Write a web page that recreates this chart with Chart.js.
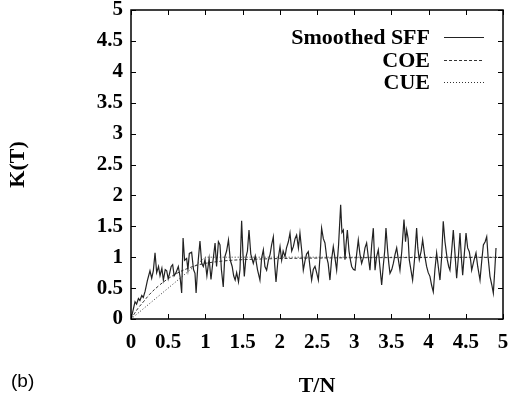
<!DOCTYPE html>
<html>
<head>
<meta charset="utf-8">
<script src="https://cdn.jsdelivr.net/npm/chart.js@4/dist/chart.umd.min.js"></script>
<style>
  html, body { margin: 0; padding: 0; background: #fff; }
  #wrap { position: relative; width: 510px; height: 398px; }
</style>
</head>
<body>
<div id="wrap"><canvas id="c" width="510" height="398"></canvas></div>
<script>
// ---- data ----
const sffT = [0, 0.03, 0.054, 0.075, 0.1, 0.12, 0.145, 0.165, 0.19, 0.22, 0.255, 0.278, 0.3, 0.323, 0.345, 0.37, 0.39, 0.415, 0.435, 0.46, 0.48, 0.5, 0.515, 0.54, 0.56, 0.58, 0.605, 0.636, 0.66, 0.681, 0.7, 0.72, 0.748, 0.765, 0.784, 0.815, 0.84, 0.86, 0.875, 0.9, 0.927, 0.95, 0.972, 0.995, 1.02, 1.05, 1.075, 1.1, 1.13, 1.15, 1.175, 1.196, 1.215, 1.24, 1.26, 1.285, 1.31, 1.335, 1.36, 1.38, 1.4, 1.42, 1.445, 1.465, 1.487, 1.505, 1.523, 1.545, 1.565, 1.586, 1.61, 1.644, 1.67, 1.7, 1.733, 1.755, 1.779, 1.8, 1.823, 1.846, 1.87, 1.89, 1.913, 1.93, 1.949, 1.975, 2.003, 2.025, 2.045, 2.07, 2.09, 2.115, 2.137, 2.16, 2.182, 2.205, 2.226, 2.25, 2.271, 2.295, 2.316, 2.34, 2.36, 2.383, 2.405, 2.428, 2.45, 2.473, 2.495, 2.518, 2.54, 2.562, 2.585, 2.607, 2.63, 2.65, 2.674, 2.695, 2.719, 2.74, 2.764, 2.79, 2.818, 2.835, 2.854, 2.876, 2.89, 2.908, 2.93, 2.95, 2.966, 2.99, 3.011, 3.033, 3.055, 3.077, 3.1, 3.125, 3.145, 3.167, 3.19, 3.212, 3.235, 3.257, 3.28, 3.3, 3.324, 3.345, 3.369, 3.39, 3.41, 3.427, 3.45, 3.465, 3.481, 3.505, 3.526, 3.55, 3.571, 3.595, 3.615, 3.64, 3.669, 3.69, 3.705, 3.725, 3.74, 3.762, 3.785, 3.81, 3.839, 3.855, 3.875, 3.9, 3.92, 3.945, 3.973, 3.995, 4.018, 4.04, 4.063, 4.085, 4.108, 4.13, 4.153, 4.175, 4.197, 4.22, 4.251, 4.27, 4.287, 4.31, 4.332, 4.355, 4.377, 4.4, 4.422, 4.44, 4.458, 4.48, 4.503, 4.525, 4.547, 4.565, 4.579, 4.61, 4.637, 4.66, 4.691, 4.715, 4.736, 4.76, 4.781, 4.8, 4.825, 4.85, 4.87, 4.89, 4.906];
const sffK = [0, 0.15, 0.28, 0.24, 0.33, 0.30, 0.38, 0.35, 0.45, 0.62, 0.78, 0.66, 0.78, 1.07, 0.75, 0.85, 0.70, 0.82, 0.63, 0.80, 0.78, 0.65, 0.72, 0.85, 0.88, 0.70, 0.75, 0.85, 0.68, 0.42, 1.31, 0.95, 0.98, 0.80, 1.06, 1.08, 0.80, 0.74, 0.42, 0.90, 1.26, 0.90, 0.85, 0.96, 0.70, 0.98, 0.64, 0.92, 1.23, 0.85, 1.25, 1.20, 0.80, 0.52, 1.00, 1.10, 1.28, 0.95, 0.85, 0.70, 0.63, 0.75, 0.60, 0.80, 1.59, 1.05, 0.69, 1.00, 1.10, 1.44, 1.05, 0.90, 1.02, 0.80, 0.63, 0.98, 1.12, 0.85, 0.79, 0.95, 1.05, 1.20, 1.33, 0.90, 0.60, 0.95, 1.17, 0.95, 1.10, 1.01, 1.15, 1.25, 1.39, 1.10, 1.17, 1.30, 1.36, 1.15, 1.39, 1.10, 0.79, 0.95, 1.05, 1.09, 0.85, 0.63, 0.80, 0.85, 0.75, 0.63, 1.00, 1.47, 1.30, 1.23, 1.00, 0.90, 0.63, 0.95, 1.17, 1.00, 0.79, 1.20, 1.85, 1.40, 1.44, 0.96, 1.20, 1.44, 1.10, 0.95, 0.85, 0.80, 0.79, 1.05, 1.28, 1.05, 0.90, 1.00, 1.15, 1.23, 1.00, 0.79, 1.20, 1.47, 0.79, 1.00, 1.12, 0.85, 0.55, 0.85, 1.10, 1.47, 1.10, 0.90, 0.74, 0.80, 0.90, 1.05, 1.15, 0.95, 0.79, 1.10, 1.61, 1.25, 1.44, 1.30, 0.96, 0.80, 0.63, 0.95, 1.47, 1.15, 0.96, 1.10, 1.28, 1.05, 0.85, 0.75, 0.69, 0.55, 0.44, 0.80, 1.07, 0.85, 0.63, 1.00, 1.58, 1.25, 0.96, 0.85, 0.79, 1.10, 1.44, 1.05, 0.66, 1.00, 1.39, 1.00, 0.71, 1.05, 1.39, 1.15, 1.09, 0.95, 0.79, 0.95, 1.07, 0.85, 0.63, 0.95, 1.20, 1.25, 1.33, 1.00, 0.69, 0.55, 0.42, 0.80, 1.15];
const coeT = [0, 0.05, 0.1, 0.175, 0.25, 0.375, 0.5, 0.625, 0.75, 0.875, 1, 1.25, 1.5, 2, 2.5, 3, 4, 5];
const coeK = [0, 0.095, 0.182, 0.29, 0.399, 0.54, 0.653, 0.744, 0.813, 0.865, 0.901, 0.94, 0.96, 0.978, 0.986, 0.991, 0.995, 0.997];
const cueT = [0, 1, 5];
const cueK = [0, 1, 1];
const xTickLabels = ['0', '0.5', '1', '1.5', '2', '2.5', '3', '3.5', '4', '4.5', '5'];
const yTickLabels = ['0', '0.5', '1', '1.5', '2', '2.5', '3', '3.5', '4', '4.5', '5'];
const seriesNames = ['Smoothed SFF', 'COE', 'CUE'];
const panelLabel = '(b)';
const xTitle = 'T/N';
const yTitle = 'K(T)';

const toPts = (xs, ys) => xs.map((v, i) => ({ x: v, y: ys[i] }));
const SERIF = '"Liberation Serif", "Times New Roman", serif';

const framePlugin = {
  id: 'frame',
  afterDatasetsDraw(chart) {
    const { ctx, chartArea: a, scales: { x, y } } = chart;
    ctx.save();
    ctx.strokeStyle = '#000';
    ctx.lineWidth = 1;
    ctx.beginPath();
    x.ticks.forEach(t => {
      const px = Math.round(x.getPixelForValue(t.value)) + 0.5;
      ctx.moveTo(px, a.bottom); ctx.lineTo(px, a.bottom - 5);
      ctx.moveTo(px, a.top); ctx.lineTo(px, a.top + 5);
    });
    y.ticks.forEach(t => {
      const py = Math.round(y.getPixelForValue(t.value)) + 0.5;
      ctx.moveTo(a.left, py); ctx.lineTo(a.left + 5, py);
      ctx.moveTo(a.right, py); ctx.lineTo(a.right - 5, py);
    });
    ctx.stroke();
    ctx.lineWidth = 1.5;
    ctx.strokeRect(a.left, a.top, a.right - a.left, a.bottom - a.top);

    // legend: text right-aligned, line sample on the right
    const rows = [37, 60, 82];
    ctx.font = 'bold 22px ' + SERIF;
    ctx.fillStyle = '#000';
    ctx.textAlign = 'right';
    ctx.textBaseline = 'middle';
    chart.data.datasets.forEach((ds, i) => {
      ctx.fillText(ds.label, 430, rows[i] + 1);
      ctx.beginPath();
      ctx.setLineDash(ds.borderDash || []);
      ctx.lineWidth = 1;
      ctx.strokeStyle = ds.borderColor;
      ctx.moveTo(444, rows[i] + 0.5);
      ctx.lineTo(484, rows[i] + 0.5);
      ctx.stroke();
    });
    ctx.setLineDash([]);

    // panel label
    ctx.font = '19px "Liberation Sans", Arial, sans-serif';
    ctx.textAlign = 'left';
    ctx.fillStyle = '#000';
    ctx.fillText(panelLabel, 11, 382);
    ctx.restore();
  }
};

new Chart(document.getElementById('c'), {
  type: 'line',
  data: {
    datasets: [
      { label: seriesNames[0], data: toPts(sffT, sffK), borderColor: '#222', borderWidth: 1.2, pointRadius: 0, tension: 0, fill: false },
      { label: seriesNames[1], data: toPts(coeT, coeK), borderColor: '#333', borderWidth: 1, borderDash: [3, 2], pointRadius: 0, tension: 0.4, fill: false },
      { label: seriesNames[2], data: toPts(cueT, cueK), borderColor: '#333', borderWidth: 1, borderDash: [1, 2], pointRadius: 0, tension: 0, fill: false }
    ]
  },
  options: {
    responsive: false,
    animation: false,
    layout: { padding: { left: 0, right: 7, top: 10, bottom: 0 } },
    plugins: { legend: { display: false }, tooltip: { enabled: false } },
    scales: {
      x: {
        type: 'linear', min: 0, max: 5,
        grid: { display: false, drawTicks: false },
        border: { display: false },
        ticks: {
          stepSize: 0.5, padding: 11, color: '#000', maxRotation: 0, autoSkip: false,
          font: { family: SERIF, size: 21, weight: 'bold' },
          callback: v => xTickLabels[Math.round(v / 0.5)]
        },
        title: { display: true, text: xTitle, color: '#000', font: { family: SERIF, size: 22, weight: 'bold', lineHeight: 1 }, padding: { top: 0, bottom: 1 } },
        afterFit: s => { s.height = 79; s.paddingLeft = 0; s.paddingRight = 0; }
      },
      y: {
        type: 'linear', min: 0, max: 5,
        grid: { display: false, drawTicks: false },
        border: { display: false },
        ticks: {
          stepSize: 0.5, padding: 8, color: '#000', autoSkip: false,
          font: { family: SERIF, size: 21, weight: 'bold' },
          callback: v => yTickLabels[Math.round(v / 0.5)]
        },
        title: { display: true, text: yTitle, color: '#000', font: { family: SERIF, size: 22, weight: 'bold', lineHeight: 1 }, padding: { top: 7, bottom: 0 } },
        afterFit: s => { s.width = 131; s.paddingTop = 0; s.paddingBottom = 0; }
      }
    }
  },
  plugins: [framePlugin]
});
</script>
</body>
</html>
